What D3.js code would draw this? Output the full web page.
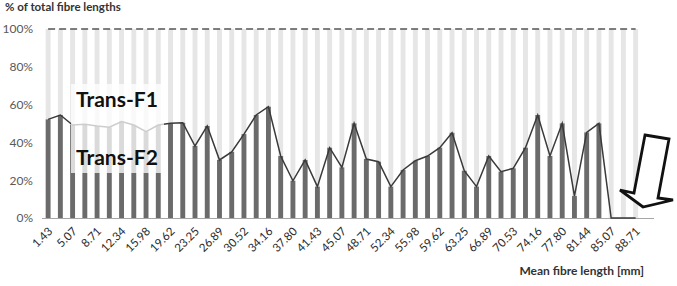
<!DOCTYPE html>
<html><head><meta charset="utf-8">
<script src="https://cdn.jsdelivr.net/npm/d3@7"></script>
<style>
html,body{margin:0;padding:0;background:#fff;}
svg{display:block;font-family:Lato,"Open Sans",sans-serif;}
</style></head>
<body><svg id="chart" width="677" height="286"></svg>
<script>
const categories = ["1.43","3.25","5.07","6.89","8.71","10.52","12.34","14.16","15.98","17.80","19.62","21.43","23.25","25.07","26.89","28.71","30.52","32.34","34.16","35.98","37.80","39.61","41.43","43.25","45.07","46.89","48.71","50.52","52.34","54.16","55.98","57.80","59.62","61.43","63.25","65.07","66.89","68.71","70.53","72.34","74.16","75.98","77.80","79.62","81.44","83.25","85.07","86.89","88.71","90.53"];
const transF2 = [52.2,54.5,49.2,49.6,48.7,48.0,51.0,49.2,45.7,49.2,50.1,50.4,38.1,48.7,30.7,35.0,44.4,54.5,58.9,32.8,19.7,30.7,16.6,37.2,26.8,50.1,31.2,29.8,16.6,25.4,30.3,32.8,37.2,45.1,25.0,16.6,32.8,24.5,26.3,37.2,54.5,32.8,50.1,11.6,45.3,50.1,0,0,0];
const transF1 = transF2.map(v => 100 - v);
const totalLine = transF2.map(() => 100);
const yTicks = [0,20,40,60,80,100];
const tickLabels = categories.filter((d,i) => i % 2 === 0 && i < transF2.length);
const seriesNames = ["Trans-F1","Trans-F2"];

const svg = d3.select("#chart");
const x = d3.scaleBand().domain(categories).range([42, 654]).paddingInner(0.6).paddingOuter(0.3);
const y = d3.scaleLinear().domain([0,100]).range([218, 29]);
const cx = d => x(d) + x.bandwidth()/2;

const data = transF2.map((v,i) => ({cat: categories[i], f2: v, f1: transF1[i], tot: totalLine[i]}));

// light (Trans-F1) part
svg.append("g").selectAll("rect").data(data).join("rect")
  .attr("x", d => x(d.cat)).attr("width", x.bandwidth())
  .attr("y", d => y(d.f2 + d.f1)).attr("height", d => y(d.f2) - y(d.f2 + d.f1))
  .attr("fill", "#e6e6e6");
// dark (Trans-F2) part
svg.append("g").selectAll("rect").data(data).join("rect")
  .attr("x", d => x(d.cat)).attr("width", x.bandwidth())
  .attr("y", d => y(d.f2)).attr("height", d => y(0) - y(d.f2))
  .attr("fill", "#6b6b6b");

// baseline
svg.append("line").attr("x1", 42).attr("x2", 654).attr("y1", y(0)+0.5).attr("y2", y(0)+0.5)
  .attr("stroke", "#a6a6a6").attr("stroke-width", 1);

// 100% dashed line
svg.append("path").datum(data)
  .attr("d", d3.line().x(d => cx(d.cat)).y(d => y(d.tot)))
  .attr("fill","none").attr("stroke","#555").attr("stroke-width",1.6).attr("stroke-dasharray","7,4");

// Trans-F2 line
svg.append("path").datum(data)
  .attr("d", d3.line().x(d => cx(d.cat)).y(d => y(d.f2)))
  .attr("fill","none").attr("stroke","#3a3a3a").attr("stroke-width",1.5);

// y axis labels
const yAxis = d3.axisLeft(y).tickValues(yTicks).tickFormat(d => d + "%").tickSize(0).tickPadding(0);
const ya = svg.append("g").attr("transform","translate(33,0)").call(yAxis);
ya.select(".domain").remove();
ya.selectAll("text").attr("font-size", 12).attr("fill", "#595959").attr("font-family","Lato,sans-serif");

// x axis labels
const xAxis = d3.axisBottom(x).tickValues(tickLabels).tickSize(0).tickPadding(0);
const xa = svg.append("g").attr("transform", `translate(0,${y(0)})`).call(xAxis);
xa.select(".domain").remove();
xa.selectAll("text")
  .attr("font-size", 11.5).attr("fill", "#2a2a2a").attr("font-family","Lato,sans-serif")
  .attr("text-anchor","end").attr("dy", null).attr("y", 0)
  .attr("transform", "translate(5,14) rotate(-45)");

// annotation box
svg.append("rect").attr("x", 71).attr("y", 84).attr("width", 93).attr("height", 89)
  .attr("fill", "#fff").attr("opacity", 0.75);
svg.append("text").attr("x", 76).attr("y", 107).text(seriesNames[0])
  .attr("font-size", 21).attr("font-weight", "bold").attr("fill", "#111");
svg.append("text").attr("x", 76).attr("y", 165).text(seriesNames[1])
  .attr("font-size", 21).attr("font-weight", "bold").attr("fill", "#111");

// titles
svg.append("text").attr("x", 5).attr("y", 11).text("% of total fibre lengths")
  .attr("font-size", 11.5).attr("font-weight", "bold").attr("fill", "#333");
svg.append("text").attr("x", 644).attr("y", 275).attr("text-anchor","end").text("Mean fibre length [mm]")
  .attr("font-size", 12).attr("font-weight", "bold").attr("fill", "#333");

// arrow annotation
svg.append("path")
  .attr("d", "M645,135 L669,139 L658,198 L673,200 L643,207 L620,190 L634,193 Z")
  .attr("fill", "#fff").attr("stroke", "#111").attr("stroke-width", 2.8).attr("stroke-linejoin","miter");
</script></body></html>
